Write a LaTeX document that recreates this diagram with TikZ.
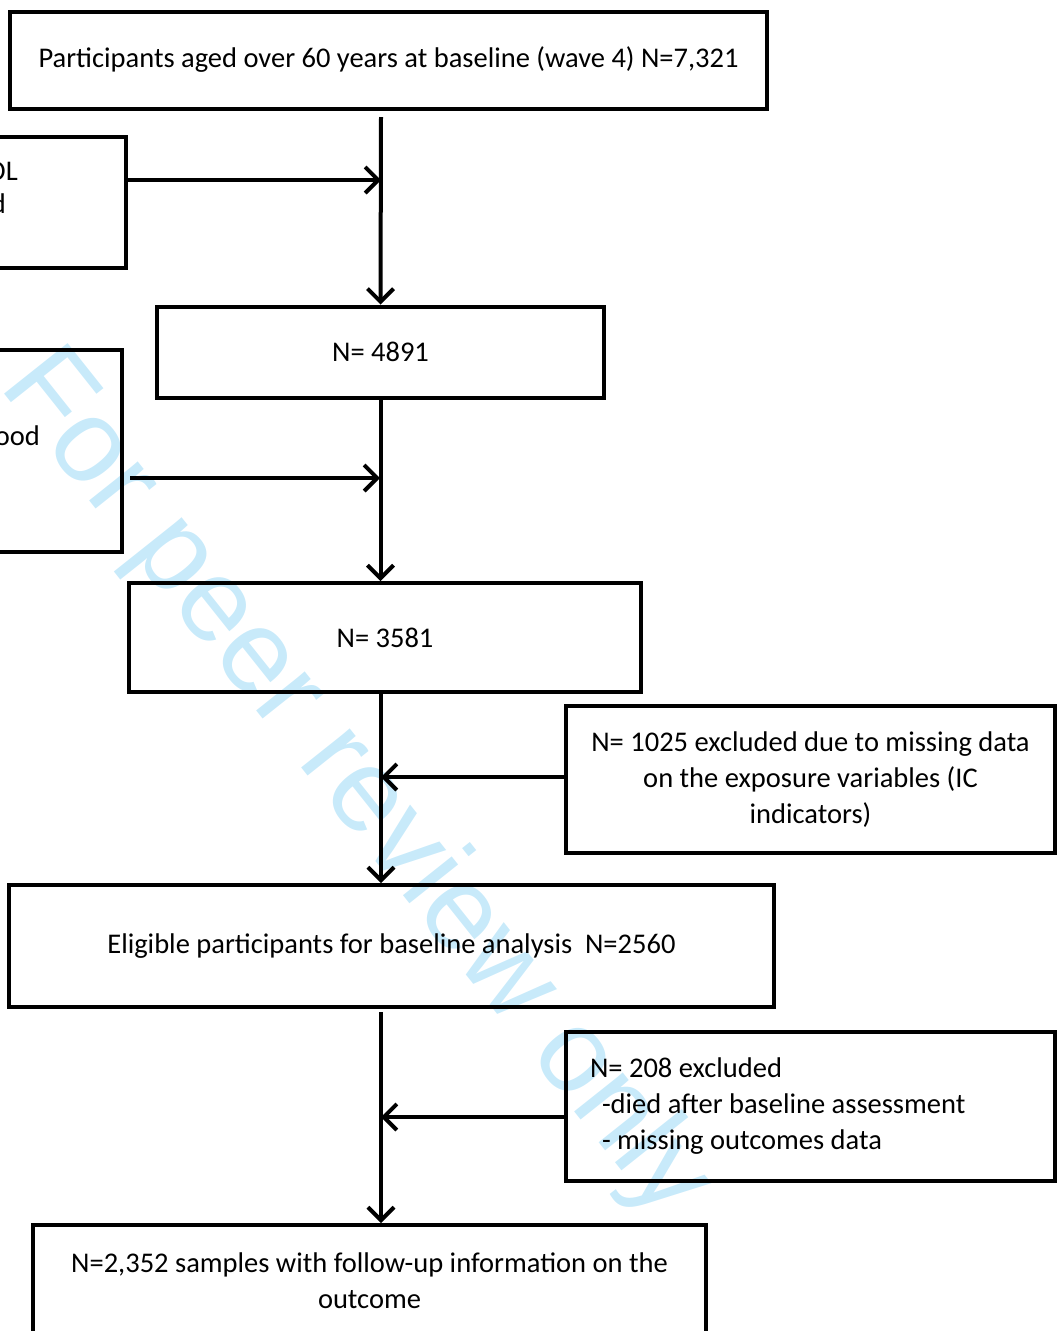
\documentclass[tikz,border=0pt]{standalone}
\usepackage{fontspec}
\setmainfont{Carlito}
\newfontfamily\wmfont{Liberation Sans}
\usetikzlibrary{arrows.meta, positioning, calc}
\definecolor{wmblue}{RGB}{200,234,250}

\begin{document}
\begin{tikzpicture}[
            x=1pt, y=-1pt,
            box/.style={rectangle, draw, line width=4pt, align=center, inner sep=0pt, font=\fontsize{28.5}{36}\selectfont},
            txt/.style={inner sep=0pt, font=\fontsize{28.5}{36}\selectfont},
            watermark/.style={text=wmblue, font=\wmfont\fontsize{118}{118}\selectfont, rotate=-51.5},
            arrow/.style={line width=4pt, -{Straight Barb[length=13pt,width=26pt]}}
          ]
  \useasboundingbox (0,0) rectangle (1057,1331);

  % Wasserzeichen
  \node (wm) [watermark] at (355,786) {For peer review only};

  % Knoten
  \node (wave4) [box, minimum width=757pt, minimum height=97pt] at (388.5,60) {Participants aged over 60 years at baseline (wave 4) N=7,321};
  \node (excl1) [box, minimum width=200pt, minimum height=131pt] at (26,202.5) {};
  \node (excl1a) [txt, anchor=east] at (18,171) {OL};
  \node (excl1b) [txt, anchor=east] at (6,204) {d};
  \node (n4891) [box, minimum width=447pt, minimum height=91pt] at (380.5,352) {N= 4891};
  \node (excl2) [box, minimum width=200pt, minimum height=202pt] at (22,451) {};
  \node (excl2a) [txt, anchor=east] at (40,436) {ood};
  \node (n3581) [box, minimum width=512pt, minimum height=109pt] at (385,637.5) {N= 3581};
  \node (excl3) [box, minimum width=489pt, minimum height=147pt] at (810.5,779.5) {N= 1025 excluded due to missing data\\on the exposure variables (IC\\indicators)};
  \node (elig) [box, minimum width=765pt, minimum height=122pt] at (391.5,946) {Eligible participants for baseline analysis\ \ N=2560};
  \node (excl4) [box, minimum width=489pt, minimum height=149pt, text width=441pt, inner xsep=24pt, align=flush left] at (810.5,1106.5) {N= 208 excluded\\\hspace*{12pt}-died after baseline assessment\\\hspace*{12pt}- missing outcomes data};
  \node (final) [box, anchor=north, minimum width=673pt, inner ysep=28pt] at (369.5,1223) {N=2,352 samples with follow-up information on the\\outcome};

  % Verbindungen
  \coordinate (t0) at (381,117);
  \coordinate (j1) at (381,180);
  \coordinate (j2) at (380,478);
  \coordinate (j3) at (381,777);
  \coordinate (t4) at (381,1012);
  \coordinate (j4) at (381,1117);
  \draw [arrow] (t0) -- (n4891.north);
  \draw [arrow] (excl1.east |- j1) -- (j1);
  \draw [arrow] (n4891.south) -- (n4891.south |- n3581.north);
  \draw [arrow] ([xshift=6pt]excl2.east |- j2) -- (j2);
  \draw [arrow] (n3581.south -| j3) -- (j3 |- elig.north);
  \draw [arrow] (excl3.west |- j3) -- (j3);
  \draw [arrow] (t4) -- (t4 |- final.north);
  \draw [arrow] (excl4.west |- j4) -- (j4);

\end{tikzpicture}
\end{document}
